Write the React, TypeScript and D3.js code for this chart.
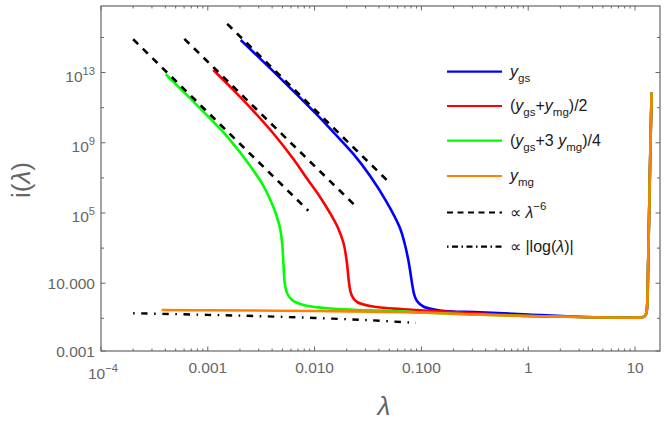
import React from "react";
import * as d3 from "d3";

// ---- data ----
const X_DOMAIN = [1e-4, 17.14];
const Y_DOMAIN = [1.38e-3, 6.17e16];

const X_MAJOR = [1e-4, 1e-3, 1e-2, 0.1, 1, 10];
const X_LABELS: [string, string][] = [["10", "−4"], ["0.001", ""], ["0.010", ""], ["0.100", ""], ["1", ""], ["10", ""]];
const Y_MAJOR = [1e-3, 10, 1e5, 1e9, 1e13];
const Y_LABELS: [string, string][] = [["0.001", ""], ["10.000", ""], ["10", "5"], ["10", "9"], ["10", "13"]];
const Y_MINOR = [0.1, 1e3, 1e7, 1e11, 1e15];

// shared tail (y_mg)
const tailLambda = [3.70e-4, 1e-3, 1e-2, 0.1, 0.316, 1, 3.16, 10, 12.0, 12.7, 13.0, 13.3, 13.8, 14.3];
const tailI = [0.299, 0.287, 0.262, 0.214, 0.166, 0.135, 0.120, 0.110, 0.120, 0.178, 0.575, 214, 2.8e7, 7.2e11];

const blueLambda = [2.032e-3, 3.824e-3, 7.30e-3, 1.1234e-2, 1.552e-2, 2.304e-2, 3.301e-2, 4.733e-2, 6.30e-2, 6.95e-2, 7.54e-2, 7.90e-2, 8.22e-2, 8.56e-2, 9.09e-2, 0.1042, 0.1493, 0.3537, 1.0];
const blueI = [7.14e14, 1.79e13, 3.69e11, 2.64e10, 3.20e9, 2.32e8, 1.33e7, 4.18e5, 1.40e4, 1.95e3, 210, 38.3, 7.93, 2.28, 0.972, 0.473, 0.280, 0.221, 0.166];

const redLambda = [1.125e-3, 1.722e-3, 2.649e-3, 4.076e-3, 6.278e-3, 8.674e-3, 1.1234e-2, 1.393e-2, 1.656e-2, 1.865e-2, 2.002e-2, 2.086e-2, 2.173e-2, 2.313e-2, 2.549e-2, 3.301e-2, 6.77e-2, 0.1853, 0.316];
const redI = [1.40e13, 1.07e12, 6.89e10, 3.60e9, 1.27e8, 7.59e6, 8.15e5, 1.0e5, 1.40e4, 1.95e3, 162, 15.3, 3.16, 1.35, 0.798, 0.505, 0.327, 0.236, 0.194];

const greenLambda = [4.034e-4, 6.81e-4, 1.048e-3, 1.449e-3, 2.001e-3, 2.649e-3, 3.217e-3, 3.824e-3, 4.351e-3, 4.742e-3, 4.984e-3, 5.114e-3, 5.281e-3, 5.574e-3, 6.143e-3, 7.143e-3, 8.43e-3, 1.298e-2, 2.304e-2, 6.30e-2];
const greenI = [7.94e12, 3.50e11, 2.44e10, 3.12e9, 2.86e8, 2.81e7, 4.92e6, 6.11e5, 8.77e4, 1.40e4, 1.50e3, 109, 7.93, 2.44, 1.11, 0.700, 0.518, 0.373, 0.307, 0.255];

const dashedLines = [
  { lambda: [2.0e-4, 8.73e-3], i: [7.9e14, 1.35e5] },
  { lambda: [6.03e-4, 2.54e-2], i: [8.3e14, 1.86e5] },
  { lambda: [1.52e-3, 5.08e-2], i: [5.9e15, 5.0e6] },
];

const dotDashLambda = [2.0e-4, 1e-3, 3.16e-3, 1e-2, 3.16e-2, 8.9e-2];
const dotDashI = [0.195, 0.158, 0.132, 0.105, 0.079, 0.0554];

const COLORS = { blue: "#0000ff", red: "#ff0000", green: "#00ff00", orange: "#ff8000" };

// ---- layout ----
const W = 667, H = 425;
const L = 101, R = 660, T = 6, B = 351;
const AX = "#666666";
const FONT = "'Liberation Sans', Arial, sans-serif";

type Part = { t: string; k?: "sub" | "sup"; it?: boolean };

function Rich({ x, y, parts, size, anchor, fill }: { x: number; y: number; parts: Part[]; size: number; anchor: string; fill: string }) {
  let cur = 0;
  return (
    <text x={x} y={y} fontSize={size} textAnchor={anchor} fill={fill} fontFamily={FONT}>
      {parts.map((p, idx) => {
        const target = p.k === "sub" ? size * 0.3 : p.k === "sup" ? -size * 0.45 : 0;
        const dy = target - cur;
        cur = target;
        return (
          <tspan key={idx} dy={dy} fontSize={p.k ? size * 0.72 : size} fontStyle={p.it ? "italic" : "normal"}>
            {p.t}
          </tspan>
        );
      })}
    </text>
  );
}

export default function App() {
  const x = d3.scaleLog().domain(X_DOMAIN).range([L, R]);
  const y = d3.scaleLog().domain(Y_DOMAIN).range([B, T]).clamp(true);
  const line = d3
    .line<[number, number]>()
    .x((d) => x(d[0]))
    .y((d) => y(d[1]))
    .curve(d3.curveCatmullRom.alpha(0.5));
  const straight = d3
    .line<[number, number]>()
    .x((d) => x(d[0]))
    .y((d) => y(d[1]));

  const joinTail = (lam: number[], iv: number[]) => {
    const last = lam[lam.length - 1];
    const pts: [number, number][] = lam.map((l, k) => [l, iv[k]]);
    tailLambda.forEach((l, k) => {
      if (l > last * 1.5) pts.push([l, tailI[k]]);
    });
    return pts;
  };

  const series = [
    { c: COLORS.blue, pts: joinTail(blueLambda, blueI) },
    { c: COLORS.red, pts: joinTail(redLambda, redI) },
    { c: COLORS.green, pts: joinTail(greenLambda, greenI) },
    { c: COLORS.orange, pts: tailLambda.map((l, k) => [l, tailI[k]] as [number, number]) },
  ];

  const xMinor: number[] = [];
  for (let e = -4; e <= 1; e++) {
    for (let m = 2; m <= 9; m++) {
      const v = m * Math.pow(10, e);
      if (v < X_DOMAIN[1]) xMinor.push(v);
    }
  }

  const legendY = [71.7, 106, 140.7, 176, 212.5, 246.7];
  const legendItems: { color: string; dash?: string; parts: Part[] }[] = [
    { color: COLORS.blue, parts: [{ t: "y", it: true }, { t: "gs", k: "sub" }] },
    { color: COLORS.red, parts: [{ t: "(" }, { t: "y", it: true }, { t: "gs", k: "sub" }, { t: "+" }, { t: "y", it: true }, { t: "mg", k: "sub" }, { t: ")/2" }] },
    { color: COLORS.green, parts: [{ t: "(" }, { t: "y", it: true }, { t: "gs", k: "sub" }, { t: "+3 " }, { t: "y", it: true }, { t: "mg", k: "sub" }, { t: ")/4" }] },
    { color: COLORS.orange, parts: [{ t: "y", it: true }, { t: "mg", k: "sub" }] },
    { color: "#000", dash: "6 4.5", parts: [{ t: "∝ " }, { t: "λ", it: true }, { t: "−6", k: "sup" }] },
    { color: "#000", dash: "1.5 3.5 6 3.5", parts: [{ t: "∝ |log(" }, { t: "λ", it: true }, { t: ")|" }] },
  ];

  return (
    <svg width={W} height={H} style={{ position: "absolute", left: 0, top: 0, background: "#fff" }}>
      <rect x={0} y={0} width={W} height={H} fill="#fff" />
      {/* curves */}
      <g fill="none" strokeWidth={2.6} strokeLinejoin="round">
        {series.map((s, k) => (
          <path key={k} d={line(s.pts) || ""} stroke={s.c} />
        ))}
      </g>
      <g fill="none" stroke="#000" strokeWidth={2.6} strokeDasharray="7 6.5">
        {dashedLines.map((dl, k) => (
          <path key={k} d={straight(dl.lambda.map((l, j) => [l, dl.i[j]] as [number, number])) || ""} />
        ))}
      </g>
      <path
        d={line(dotDashLambda.map((l, k) => [l, dotDashI[k]] as [number, number])) || ""}
        fill="none"
        stroke="#000"
        strokeWidth={2.4}
        strokeDasharray="1.6 6.5 6.5 6.5"
      />
      {/* frame */}
      <rect x={L} y={T} width={R - L} height={B - T} fill="none" stroke={AX} strokeWidth={1.2} />
      {/* ticks */}
      <g stroke={AX} strokeWidth={1}>
        {X_MAJOR.map((v, k) => (
          <g key={k}>
            <line x1={x(v)} x2={x(v)} y1={B} y2={B - 4.5} />
            <line x1={x(v)} x2={x(v)} y1={T} y2={T + 4.5} />
          </g>
        ))}
        {xMinor.map((v, k) => (
          <g key={k}>
            <line x1={x(v)} x2={x(v)} y1={B} y2={B - 2.5} />
            <line x1={x(v)} x2={x(v)} y1={T} y2={T + 2.5} />
          </g>
        ))}
        {Y_MAJOR.map((v, k) => (
          <g key={k}>
            <line x1={L} x2={L + 4.5} y1={y(v)} y2={y(v)} />
            <line x1={R} x2={R - 4.5} y1={y(v)} y2={y(v)} />
          </g>
        ))}
        {Y_MINOR.map((v, k) => (
          <g key={k}>
            <line x1={L} x2={L + 3} y1={y(v)} y2={y(v)} />
            <line x1={R} x2={R - 3} y1={y(v)} y2={y(v)} />
          </g>
        ))}
      </g>
      {/* x tick labels */}
      {X_MAJOR.map((v, k) => {
        const [base, sup] = X_LABELS[k];
        const parts: Part[] = sup ? [{ t: base }, { t: sup, k: "sup" }] : [{ t: base }];
        return <Rich key={k} x={x(v) + (sup ? 2 : 0)} y={sup ? 379 : 373} parts={parts} size={15.5} anchor="middle" fill={AX} />;
      })}
      {/* y tick labels */}
      {Y_MAJOR.map((v, k) => {
        const [base, sup] = Y_LABELS[k];
        const parts: Part[] = sup ? [{ t: base }, { t: sup, k: "sup" }] : [{ t: base }];
        return <Rich key={k} x={L - 6} y={y(v) + (sup ? 9 : 5.5)} parts={parts} size={15.5} anchor="end" fill={AX} />;
      })}
      {/* axis titles */}
      <text x={384} y={415} fontSize={26} fill={AX} fontFamily={FONT} fontStyle="italic" textAnchor="middle">λ</text>
      <text transform="translate(30,180) rotate(-90)" fontSize={26} fill={AX} fontFamily={FONT} textAnchor="middle">
        <tspan>i(</tspan>
        <tspan fontStyle="italic">λ</tspan>
        <tspan>)</tspan>
      </text>
      {/* legend */}
      {legendItems.map((it, k) => (
        <g key={k}>
          <line x1={447} x2={502} y1={legendY[k]} y2={legendY[k]} stroke={it.color} strokeWidth={2.2} strokeDasharray={it.dash} />
          <Rich x={510} y={legendY[k] + 5} parts={it.parts} size={16} anchor="start" fill="#1a1a1a" />
        </g>
      ))}
    </svg>
  );
}
